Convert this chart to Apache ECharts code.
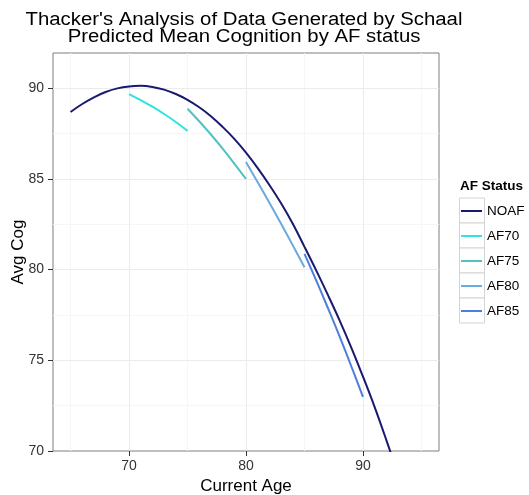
<!DOCTYPE html>
<html><head><meta charset="utf-8">
<script src="https://cdn.jsdelivr.net/npm/echarts@6/dist/echarts.min.js"></script>
<style>html,body{margin:0;padding:0;background:#fff}#c{width:529px;height:495px}</style>
</head><body><div id="c"></div>
<script>
const titleText = "Thacker's Analysis of Data Generated by Schaal\nPredicted Mean Cognition by AF status";
const legendTitle = 'AF Status';
const xName = 'Current Age';
const yName = 'Avg Cog';
const seriesNames = ['NOAF', 'AF70', 'AF75', 'AF80', 'AF85'];
const seriesColors = ['#191970', '#2fe3e3', '#50c2c2', '#6aaadc', '#4d7fdc'];

const noafAge = [65, 66, 67, 68, 69, 70, 71, 72, 73, 74, 75, 76, 77, 78, 79, 80, 81, 82, 83, 84, 85, 86, 87, 88, 89, 90, 91, 92, 93, 94, 95];
const noafCog = [88.68, 89.12, 89.49, 89.78, 89.98, 90.09, 90.12, 90.06, 89.91, 89.67, 89.35, 88.94, 88.45, 87.86, 87.2, 86.44, 85.59, 84.66, 83.65, 82.52, 81.25, 79.95, 78.6, 77.2, 75.7, 74.1, 72.42, 70.6, 68.7, 66.7, 64.7];
const af70Age = [70, 71, 72, 73, 74, 75];
const af70Cog = [89.67, 89.33, 88.97, 88.57, 88.13, 87.64];
const af75Age = [75, 76, 77, 78, 79, 80];
const af75Cog = [88.86, 88.17, 87.44, 86.66, 85.84, 84.99];
const af80Age = [80, 81, 82, 83, 84, 85];
const af80Cog = [85.92, 84.81, 83.68, 82.52, 81.33, 80.12];
const af85Age = [85, 86, 87, 88, 89, 90];
const af85Cog = [80.86, 79.40, 77.88, 76.31, 74.67, 72.98];

const xTicks = [70, 80, 90];
const yTicks = [70, 75, 80, 85, 90];
const xMinorGrid = [65, 75, 85, 95];
const yMinorGrid = [72.5, 77.5, 82.5, 87.5];
const xMajorGrid = [70, 80, 90];
const yMajorGrid = [75, 80, 85, 90];

const ages = [noafAge, af70Age, af75Age, af80Age, af85Age];
const cogs = [noafCog, af70Cog, af75Cog, af80Cog, af85Cog];

const FONT = 'Liberation Sans, Arial, sans-serif';
const chart = echarts.init(document.getElementById('c'), null, {renderer: 'canvas'});

const dataSeries = seriesNames.map((n, i) => ({
  name: n, type: 'line', smooth: 0.4, showSymbol: false, symbol: 'none',
  color: seriesColors[i], z: 5, clip: true,
  lineStyle: {color: seriesColors[i], width: 2},
  data: ages[i].map((a, j) => [a, cogs[i][j]])
}));

const gridSeries = [
  {type: 'line', name: '_minor', data: [], z: 1, silent: true,
   markLine: {silent: true, symbol: 'none', animation: false, label: {show: false},
     lineStyle: {color: '#f6f6f6', width: 1, type: 'solid'},
     data: xMinorGrid.map(v => ({xAxis: v})).concat(yMinorGrid.map(v => ({yAxis: v})))}},
  {type: 'line', name: '_major', data: [], z: 2, silent: true,
   markLine: {silent: true, symbol: 'none', animation: false, label: {show: false},
     lineStyle: {color: '#ebebeb', width: 1, type: 'solid'},
     data: xMajorGrid.map(v => ({xAxis: v})).concat(yMajorGrid.map(v => ({yAxis: v})))}}
];

const keyBoxes = seriesNames.map((n, i) => ({
  type: 'rect', left: 459, top: 197.5 + i * 25, z: 1, silent: true,
  shape: {width: 25, height: 25},
  style: {fill: '#fff', stroke: '#d4d4d4', lineWidth: 1}
}));

chart.setOption({
  animation: false,
  backgroundColor: '#fff',
  title: [
    {text: legendTitle, left: 460, top: 179, padding: 0,
     textStyle: {fontFamily: FONT, fontSize: 13.5, fontWeight: 'bold', color: '#000'}}
  ],
  grid: {left: 53, top: 53, right: 90, bottom: 44, containLabel: false, outerBoundsMode: 'none',
    show: true, backgroundColor: '#fff', borderColor: '#7f7f7f', borderWidth: 1},
  legend: {
    orient: 'vertical', left: 461, top: 203, padding: 0,
    itemWidth: 21, itemHeight: 2, itemGap: 9, icon: 'rect',
    data: seriesNames,
    textStyle: {fontFamily: FONT, fontSize: 13.5, color: '#000', lineHeight: 16}
  },
  graphic: [{
    type: 'text', x: 244, y: 12, scaleX: 1.13, z: 10, silent: true,
    style: {text: titleText, fill: '#000', font: '18px ' + FONT, fontSize: 18, fontFamily: FONT,
      align: 'center', verticalAlign: 'top', textAlign: 'center', textVerticalAlign: 'top', lineHeight: 16.5}
  }].concat(keyBoxes),
  xAxis: {
    type: 'value', min: 63.5, max: 96.5,
    name: xName, nameLocation: 'middle', nameGap: 25,
    nameTextStyle: {fontFamily: FONT, fontSize: 17, color: '#000'},
    axisLine: {show: false},
    axisTick: {show: true, length: 5, customValues: xTicks, lineStyle: {color: '#333'}},
    axisLabel: {customValues: xTicks, margin: 8, fontFamily: FONT, fontSize: 14, color: '#333'},
    splitLine: {show: false}
  },
  yAxis: {
    type: 'value', min: 70, max: 91.93,
    name: yName, nameLocation: 'middle', nameGap: 26, nameMoveOverlap: false,
    nameTextStyle: {fontFamily: FONT, fontSize: 17, color: '#000'},
    axisLine: {show: false},
    axisTick: {show: true, length: 5, customValues: yTicks, lineStyle: {color: '#333'}},
    axisLabel: {customValues: yTicks, margin: 9, fontFamily: FONT, fontSize: 14, color: '#333'},
    splitLine: {show: false}
  },
  series: gridSeries.concat(dataSeries)
});
</script>
</body></html>
